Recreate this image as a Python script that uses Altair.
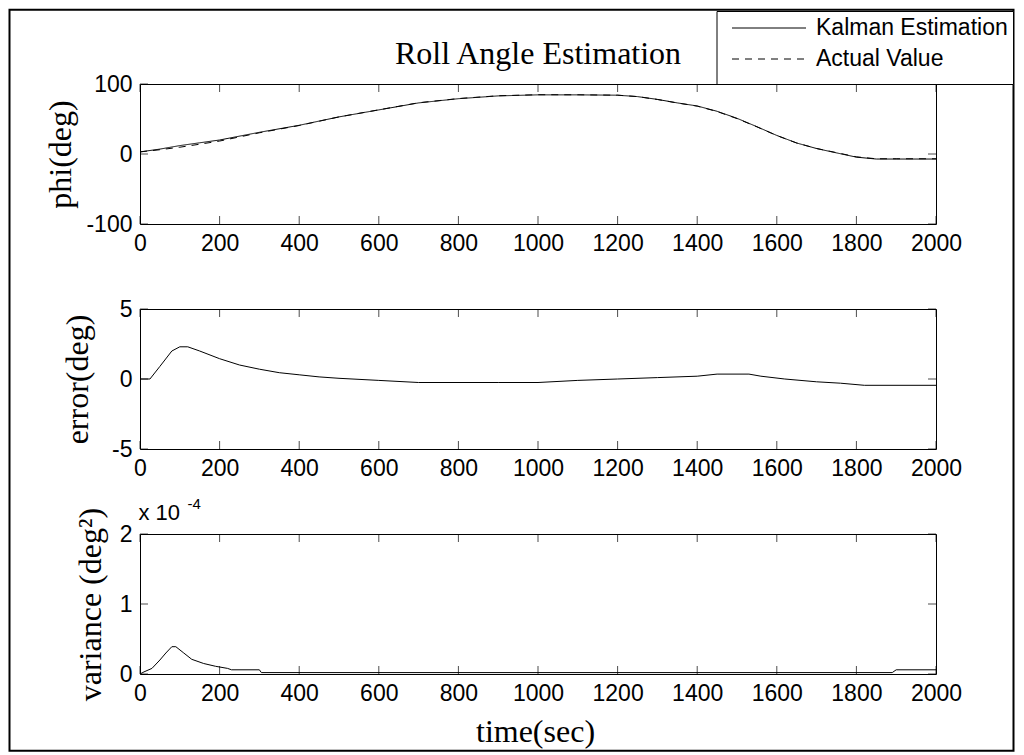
import altair as alt
import pandas as pd

# ---------------- data ----------------
time_phi = [0, 50, 100, 150, 200, 300, 400, 500, 600, 700, 800, 900, 1000, 1100,
            1200, 1250, 1300, 1350, 1400, 1450, 1500, 1550, 1600, 1650, 1700, 1750,
            1800, 1850, 1900, 2000]
phi_kalman = [3, 7, 12, 16, 20, 31, 41, 53, 63, 73, 79, 83, 84.5, 84.5,
              84, 82, 78, 73, 68.6, 61, 51, 39, 26.5, 15.7, 7.8, 1.6,
              -4.5, -7.2, -7.2, -7.2]
phi_actual = [3, 6.1, 9.7, 14, 18.5, 30.3, 40.7, 53, 63.1, 73.2, 79.2, 83.2, 84.7, 84.6,
              84, 82, 77.9, 72.9, 68.4, 60.7, 50.6, 38.8, 26.4, 15.7, 7.9, 1.9,
              -4.1, -6.8, -6.8, -6.8]

time_err = [0, 25, 50, 80, 100, 120, 150, 200, 250, 300, 350, 400, 450, 500, 600,
            700, 900, 1000, 1100, 1200, 1300, 1400, 1450, 1530, 1560, 1620, 1700,
            1760, 1820, 2000]
err_values = [0, 0, 0.9, 2.0, 2.3, 2.3, 2.0, 1.45, 1.0, 0.7, 0.45, 0.3, 0.15, 0.05, -0.1,
              -0.25, -0.25, -0.25, -0.1, 0.0, 0.1, 0.2, 0.35, 0.35, 0.2, 0.0, -0.2,
              -0.3, -0.45, -0.45]

time_var = [0, 10, 30, 50, 65, 80, 90, 110, 130, 160, 190, 220, 230, 300, 305,
            1890, 1900, 2000]
# variance in units of 1e-4 deg^2 (axis shows "x 10^-4")
var_values = [0.0, 0.03, 0.08, 0.2, 0.3, 0.39, 0.39, 0.3, 0.21, 0.15, 0.11, 0.08, 0.06,
              0.06, 0.02, 0.02, 0.06, 0.06]

x_ticks = list(range(0, 2001, 200))
phi_ticks = [-100, 0, 100]
err_ticks = [-5, 0, 5]
var_ticks = [0, 1, 2]

series_names = ["Kalman Estimation", "Actual Value"]
chart_title = "Roll Angle Estimation"

# ---------------- styling ----------------
W, H = 796, 140
SERIF = "Liberation Serif"
SANS = "Liberation Sans"
TICK = 8
LABEL_EXPR = "'' + datum.value"

xscale = alt.Scale(domain=[0, 2000], nice=False, zero=False)


def x_axis(title=None):
    kw = dict(values=x_ticks, labelFlush=False, labelExpr=LABEL_EXPR)
    if title:
        kw.update(title=title, titleX=395, titleY=67, titleBaseline="alphabetic",
                  titleAlign="center", titleAngle=0)
    else:
        kw.update(title=None)
    return alt.Axis(**kw)


def y_axis(ticks, title, tx):
    return alt.Axis(values=ticks, title=title, titleX=tx, titleY=H / 2,
                    titleBaseline="alphabetic", titleAlign="center", labelExpr=LABEL_EXPR)


def panel(lines, ydomain, yticks, ytitle, tx, xtitle=None, extra=None):
    yscale = alt.Scale(domain=ydomain, nice=False, zero=False)
    xa = x_axis(xtitle)
    ya = y_axis(yticks, ytitle, tx)
    layers = []
    for chart in lines:
        layers.append(chart.encode(
            x=alt.X("t:Q", scale=xscale, axis=xa),
            y=alt.Y("v:Q", scale=yscale, axis=ya),
        ))
    xt = pd.DataFrame({"t": x_ticks})
    yt = pd.DataFrame({"v": yticks})
    for ypos in (H - TICK / 2, TICK / 2):
        layers.append(alt.Chart(xt).mark_tick(color="black", thickness=1, size=TICK).encode(
            x=alt.X("t:Q", scale=xscale, axis=xa), y=alt.value(ypos)))
    for xpos in (TICK / 2, W - TICK / 2):
        layers.append(alt.Chart(yt).mark_tick(color="black", thickness=1, size=TICK).encode(
            y=alt.Y("v:Q", scale=yscale, axis=ya), x=alt.value(xpos)))
    if extra:
        layers.extend(extra)
    return alt.layer(*layers).properties(width=W, height=H)


# ---------- panel 1: roll angle ----------
df_phi = pd.concat([
    pd.DataFrame({"t": time_phi, "v": phi_kalman, "series": series_names[0]}),
    pd.DataFrame({"t": time_phi, "v": phi_actual, "series": series_names[1]}),
])
phi_line = alt.Chart(df_phi).mark_line(color="black", strokeWidth=1).encode(
    strokeDash=alt.StrokeDash("series:N",
                              scale=alt.Scale(domain=series_names, range=[[1, 0], [7, 6]]),
                              legend=None),
    detail="series:N",
)

one = pd.DataFrame({"k": [0]})
frame = alt.Chart(one).mark_rect(fill="white", fillOpacity=0, stroke="black", strokeWidth=2).encode(
    x=alt.value(-130.5), x2=alt.value(873.5), y=alt.value(-74.3), y2=alt.value(666.7))
title_mark = alt.Chart(pd.DataFrame({"s": [chart_title]})).mark_text(
    font=SERIF, fontSize=32, align="center", baseline="alphabetic", color="black").encode(
    text="s:N", x=alt.value(W / 2), y=alt.value(-20))
leg_box = alt.Chart(one).mark_rect(fill="white", stroke="black", strokeWidth=1).encode(
    x=alt.value(577), x2=alt.value(873.5), y=alt.value(-72.5), y2=alt.value(0.5))
leg_items = []
for i, name in enumerate(series_names):
    yy = -56 + i * 31
    dash = [1, 0] if i == 0 else [7, 6]
    leg_items.append(alt.Chart(one).mark_rule(color="black", strokeWidth=1, strokeDash=dash).encode(
        x=alt.value(592), x2=alt.value(666), y=alt.value(yy)))
    leg_items.append(alt.Chart(pd.DataFrame({"label": [name]})).mark_text(
        font=SANS, fontSize=23, align="left", baseline="middle", color="black").encode(
        text="label:N", x=alt.value(676), y=alt.value(yy)))

p1 = panel([phi_line], [-100, 100], phi_ticks, "phi(deg)", -70,
           extra=[frame, title_mark, leg_box] + leg_items)

# ---------- panel 2: error ----------
df_err = pd.DataFrame({"t": time_err, "v": err_values})
err_line = alt.Chart(df_err).mark_line(color="black", strokeWidth=1)
p2 = panel([err_line], [-5, 5], err_ticks, "error(deg)", -52.5)

# ---------- panel 3: variance ----------
df_var = pd.DataFrame({"t": time_var, "v": var_values})
var_line = alt.Chart(df_var).mark_line(color="black", strokeWidth=1)
exp_txt = [
    alt.Chart(pd.DataFrame({"s": ["x 10"]})).mark_text(
        font=SANS, fontSize=22, align="left", baseline="middle", color="black").encode(
        text="s:N", x=alt.value(-1.5), y=alt.value(-21)),
    alt.Chart(pd.DataFrame({"s": ["-4"]})).mark_text(
        font=SANS, fontSize=15, align="left", baseline="middle", color="black").encode(
        text="s:N", x=alt.value(47.5), y=alt.value(-30)),
]
p3 = panel([var_line], [0, 2], var_ticks, "variance (deg²)", -39.5,
           xtitle="time(sec)", extra=exp_txt)

chart = alt.vconcat(p1, p2, p3, spacing=85, bounds="flush").properties(
    padding=0, background="white"
).configure_view(
    stroke="black", strokeWidth=1
).configure_axis(
    grid=False, domain=False, ticks=False,
    labelFont=SANS, labelFontSize=23, labelColor="black", labelPadding=8,
    titleFont=SERIF, titleFontSize=32, titleFontWeight="normal", titleColor="black",
)

chart.save("out.html", embed_options={"renderer": "svg", "actions": False})
